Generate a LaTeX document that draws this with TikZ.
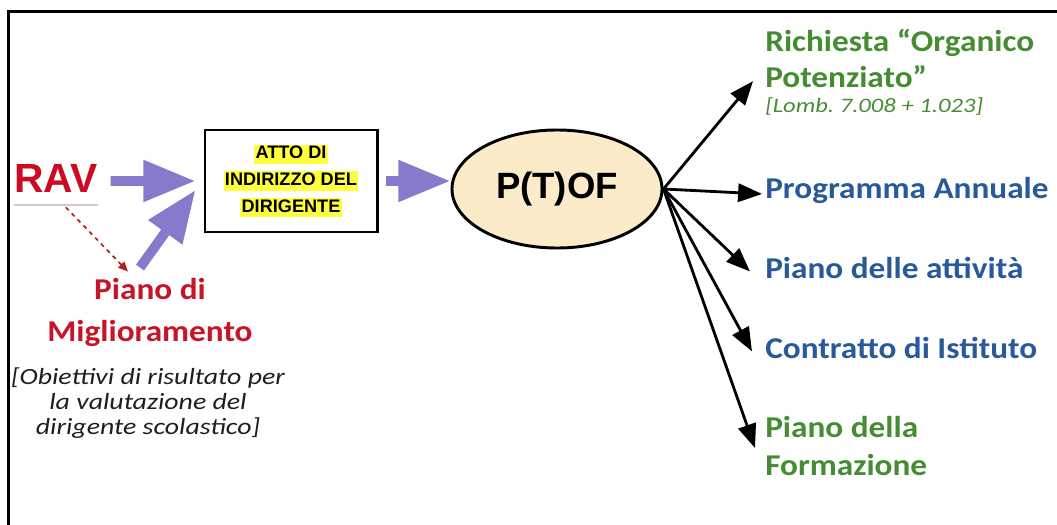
\documentclass[tikz,border=0pt]{standalone}
\usepackage{fontspec}
\usetikzlibrary{calc, shapes.geometric, arrows.meta}
\usetikzlibrary{positioning}

\newfontfamily\arialplain{Liberation Sans}
\newfontfamily\calwide{Carlito}[FakeStretch=1.1]
\newfontfamily\calnote{Carlito}[FakeStretch=1.2]

\definecolor{ravred}{RGB}{205,10,35}
\definecolor{migred}{RGB}{200,20,40}
\definecolor{dashred}{RGB}{180,30,30}
\definecolor{lavender}{RGB}{135,122,205}
\definecolor{ptofcream}{RGB}{252,235,200}
\definecolor{hlyellow}{RGB}{255,255,60}
\definecolor{outgreen}{RGB}{70,140,50}
\definecolor{outblue}{RGB}{40,90,155}
\definecolor{notegray}{RGB}{30,30,30}
\definecolor{spellgray}{RGB}{215,200,205}

\newcommand{\hilite}[1]{{\setlength{\fboxsep}{1pt}\colorbox{hlyellow}{\vphantom{Ag}#1}}}

\tikzset{
    purparrow/.style={draw=lavender, line width=7pt, -{Triangle[length=37pt,width=28pt]}},
    outarrow/.style={line width=2pt, -{Triangle[length=17pt,width=13pt]}},
    outtext/.style={inner sep=0pt, anchor=base west, font=\calwide\bfseries\fontsize{21.5}{27}\selectfont},
}

\begin{document}
\begin{tikzpicture}[x=0.025cm, y=-0.025cm]

        \useasboundingbox (0,0) rectangle (1057,525);

        % frame
        \draw[line width=2.2pt] (8.5,525) -- (8.5,11.5) -- (1057,11.5);

        % sources
        \node[inner sep=0pt, anchor=base west, text=ravred, font=\arialplain\bfseries\fontsize{29}{32}\selectfont] (rav) at (14,192) {RAV};
        \node[inner sep=0pt, align=center, text=migred, font=\calwide\bfseries\fontsize{21.5}{29.8}\selectfont] (mig) at (150,312) {Piano di\\Miglioramento};
        \node[inner sep=0pt, align=center, text=notegray, font=\calnote\itshape\fontsize{16.5}{18}\selectfont] (obi) at (148,403) {[Obiettivi di risultato per\\la valutazione del\\dirigente scolastico]};

        % atto di indirizzo
        \node[draw, line width=2.1pt, minimum width=4.3cm, minimum height=2.55cm, align=center, font=\arialplain\bfseries\fontsize{12.9}{19}\selectfont] (box) at (291,181) {\hilite{ATTO DI}\\\hilite{INDIRIZZO DEL}\\\hilite{DIRIGENTE}};

        % ptof
        \node[ellipse, draw, line width=2.1pt, fill=ptofcream, minimum width=5.25cm, minimum height=2.95cm, inner sep=0pt, font=\arialplain\bfseries\fontsize{26}{30}\selectfont] (ptof) at (557,189) {P(T)OF};

        % sources to atto
        \draw[draw=spellgray, line width=1.2pt] ($(rav.south west)+(0,13)$) -- ($(rav.south east)+(0,13)$);
        \draw[purparrow] ($(rav.east)+(13,3)$) -- ($(box.west)+(-8,0)$);
        \draw[purparrow] ($(mig.north)+(-10,-10)$) -- ($(box.west)+(-8,9)$);
        \draw[dashed, draw=dashred, line width=1.2pt, -{Triangle[length=7pt,width=6pt]}] ($(rav.south)+(10,15)$) -- ($(mig.north)+(-22,-6)$);

        % atto to ptof
        \draw[purparrow, shorten <=5pt] (box.east) -- (box.east -| ptof.west);

        % outputs
        \node[outtext, text=outgreen] (ric1) at (765,52) {Richiesta “Organico};
        \node[outtext, text=outgreen] (ric2) at (765,88) {Potenziato”};
        \node[outtext, text=outgreen, font=\calnote\itshape\fontsize{14.6}{18}\selectfont] (lomb) at (765,113) {[Lomb.\ 7.008 + 1.023]};
        \node[outtext, text=outblue] (prog) at (765,198) {Programma Annuale};
        \node[outtext, text=outblue] (att) at (765,278) {Piano delle attività};
        \node[outtext, text=outblue] (contr) at (765,358) {Contratto di Istituto};
        \node[outtext, text=outgreen, align=left, anchor=west] (form) at (765,446) {Piano della\\Formazione};

        % ptof to outputs
        \draw[outarrow] (ptof.east) -- ($(ric2.west)+(-12,4)$);
        \draw[outarrow] (ptof.east) -- ($(prog.west)+(-3,4)$);
        \draw[outarrow] (ptof.east) -- ($(att.west)+(-15,4)$);
        \draw[outarrow] (ptof.east) -- ($(contr.west)+(-13,4)$);
        \draw[outarrow] (ptof.east) -- ($(form.west)+(-10,2)$);

\end{tikzpicture}
\end{document}
